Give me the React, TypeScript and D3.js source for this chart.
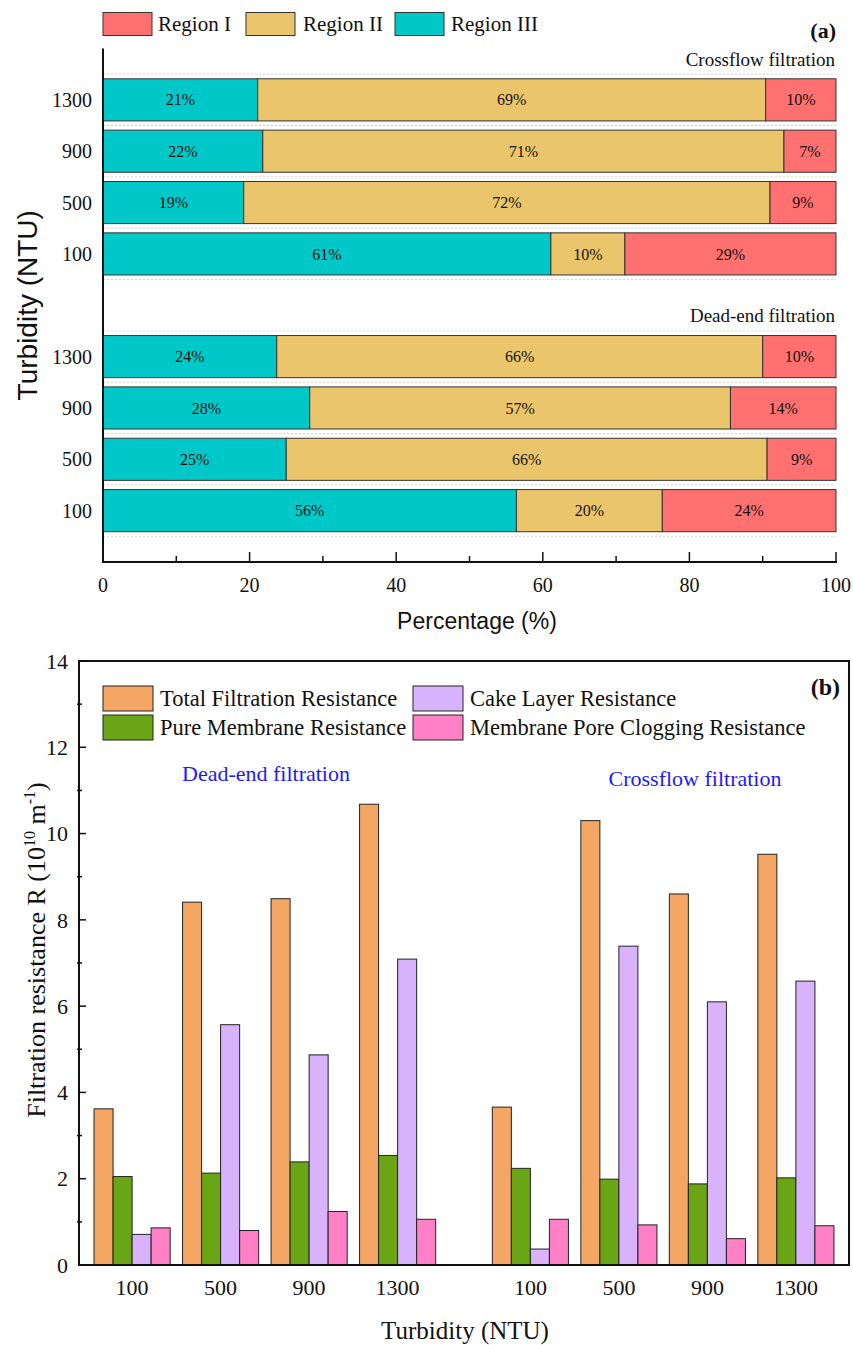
import React from "react";
import * as d3 from "d3";

// ---------- Panel (a) data ----------
const turbidityA = ["1300", "900", "500", "100"];
const regionNames = ["Region I", "Region II", "Region III"];
const crossIII = [21.1, 21.8, 19.2, 61.1];
const crossII = [69.3, 71.1, 71.8, 10.1];
const crossI = [9.6, 7.1, 9.0, 28.8];
const deadIII = [23.7, 28.2, 25.0, 56.4];
const deadII = [66.3, 57.4, 65.6, 19.9];
const deadI = [10.0, 14.4, 9.4, 23.7];
const pctTicks = [0, 20, 40, 60, 80, 100];

// ---------- Panel (b) data ----------
const turbidityB = ["100", "500", "900", "1300"];
const seriesNames = [
  "Total Filtration Resistance",
  "Pure Membrane Resistance",
  "Cake Layer Resistance",
  "Membrane Pore Clogging Resistance",
];
const deadTotal = [3.62, 8.41, 8.49, 10.68];
const deadPure = [2.05, 2.13, 2.39, 2.54];
const deadCake = [0.71, 5.57, 4.87, 7.09];
const deadPore = [0.86, 0.8, 1.24, 1.06];
const crossTotal = [3.66, 10.3, 8.6, 9.52];
const crossPure = [2.24, 1.99, 1.88, 2.02];
const crossCake = [0.37, 7.39, 6.1, 6.58];
const crossPore = [1.06, 0.93, 0.61, 0.91];
const resTicks = [0, 2, 4, 6, 8, 10, 12, 14];

const colorI = "#FF7070";
const colorII = "#EBC56B";
const colorIII = "#00C8C8";
const colorsB = ["#F4A664", "#6AA515", "#D9B2FC", "#FF80C6"];

const serif = "'Liberation Serif', 'Times New Roman', serif";
const sans = "'Liberation Sans', Arial, sans-serif";

export default function App() {
  // Panel (a) scales
  const xa = d3.scaleLinear().domain([0, 100]).range([103, 836]);
  const ya = d3.scaleLinear().domain([0, 10]).range([48.5, 562]);
  const step = ya(1) - ya(0);
  const barH = step * 0.82;

  type Row = { label: string; pos: number; vals: number[] };
  const rowsA: Row[] = [];
  turbidityA.forEach((t, i) => {
    rowsA.push({ label: t, pos: 1 + i, vals: [crossIII[i], crossII[i], crossI[i]] });
  });
  turbidityA.forEach((t, i) => {
    rowsA.push({ label: t, pos: 6 + i, vals: [deadIII[i], deadII[i], deadI[i]] });
  });
  const segColors = [colorIII, colorII, colorI];
  const gridPos = d3.range(0.5, 10, 1);
  const minorA = d3.range(10, 100, 20);

  // Panel (b) scales
  const xb = d3.scaleLinear().domain([0.4, 9.1]).range([79, 849]);
  const yb = d3.scaleLinear().domain([0, 14]).range([1265, 661]);
  const stepB = xb(1) - xb(0);
  const bw = stepB * 0.215;
  const groupsB = [
    ...turbidityB.map((t, i) => ({ label: t, pos: 1 + i, vals: [deadTotal[i], deadPure[i], deadCake[i], deadPore[i]] })),
    ...turbidityB.map((t, i) => ({ label: t, pos: 5.5 + i, vals: [crossTotal[i], crossPure[i], crossCake[i], crossPore[i]] })),
  ];
  const minorB = d3.range(1, 14, 2);

  const legendA = [
    { name: regionNames[0], color: colorI, x: 103, tx: 158 },
    { name: regionNames[1], color: colorII, x: 246, tx: 303 },
    { name: regionNames[2], color: colorIII, x: 395, tx: 451 },
  ];
  const legendB = [
    { name: seriesNames[0], color: colorsB[0], x: 103, y: 686 },
    { name: seriesNames[1], color: colorsB[1], x: 103, y: 715 },
    { name: seriesNames[2], color: colorsB[2], x: 413, y: 686 },
    { name: seriesNames[3], color: colorsB[3], x: 413, y: 715 },
  ];

  return (
    <svg width={853} height={1345} style={{ position: "absolute", left: 0, top: 0, background: "#fff" }}>
      <rect x={0} y={0} width={853} height={1345} fill="#fff" />
      {/* ===== Panel (a) ===== */}
      {legendA.map((l) => (
        <g key={l.name}>
          <rect x={l.x} y={12.5} width={49} height={23} fill={l.color} stroke="#333" strokeWidth={1} />
          <text x={l.tx} y={31} fontFamily={serif} fontSize={21} fill="#111">{l.name}</text>
        </g>
      ))}
      <text x={836} y={38} textAnchor="end" fontFamily={serif} fontSize={22} fontWeight="bold" fill="#111">(a)</text>
      {gridPos.map((p) => (
        <line key={p} x1={xa(0)} x2={xa(100)} y1={ya(p)} y2={ya(p)} stroke="#d4d4d4" strokeWidth={1} strokeDasharray="2,2" />
      ))}
      <text x={835} y={66} textAnchor="end" fontFamily={serif} fontSize={19} fill="#111">Crossflow filtration</text>
      <text x={835} y={322} textAnchor="end" fontFamily={serif} fontSize={19} fill="#111">Dead-end filtration</text>
      {rowsA.map((r, ri) => {
        let acc = 0;
        const yc = ya(r.pos);
        return (
          <g key={ri}>
            {r.vals.map((v, k) => {
              const x0 = xa(acc);
              acc += v;
              const x1 = xa(acc);
              return (
                <g key={k}>
                  <rect x={x0} y={yc - barH / 2} width={x1 - x0} height={barH} fill={segColors[k]} stroke="#333" strokeWidth={1} />
                  <text x={(x0 + x1) / 2} y={yc} dy="0.35em" textAnchor="middle" fontFamily={serif} fontSize={16} fill="#111">
                    {Math.round(v)}%
                  </text>
                </g>
              );
            })}
            <text x={92} y={yc} dy="0.35em" textAnchor="end" fontFamily={serif} fontSize={20} fill="#111">{r.label}</text>
          </g>
        );
      })}
      {/* axes a */}
      <line x1={xa(0)} x2={xa(0)} y1={ya(0)} y2={ya(10) + 1} stroke="#111" strokeWidth={2} />
      <line x1={xa(0) - 1} x2={xa(100) + 1} y1={ya(10)} y2={ya(10)} stroke="#111" strokeWidth={2} />
      {pctTicks.map((t) => (
        <g key={t}>
          <line x1={xa(t)} x2={xa(t)} y1={ya(10)} y2={ya(10) - 10} stroke="#111" strokeWidth={1.5} />
          <text x={xa(t)} y={592} textAnchor="middle" fontFamily={serif} fontSize={20} fill="#111">{t}</text>
        </g>
      ))}
      {minorA.map((t) => (
        <line key={t} x1={xa(t)} x2={xa(t)} y1={ya(10)} y2={ya(10) - 6} stroke="#111" strokeWidth={1.5} />
      ))}
      <text x={477} y={629} textAnchor="middle" fontFamily={sans} fontSize={23} fill="#111">Percentage (%)</text>
      <text transform={`translate(37,${ya(5)}) rotate(-90)`} textAnchor="middle" fontFamily={sans} fontSize={28} fill="#111">Turbidity (NTU)</text>

      {/* ===== Panel (b) ===== */}
      {groupsB.map((g, gi) => (
        <g key={gi}>
          {g.vals.map((v, k) => (
            <rect key={k} x={xb(g.pos) + (k - 2) * bw} y={yb(v)} width={bw} height={yb(0) - yb(v)} fill={colorsB[k]} stroke="#222" strokeWidth={1} />
          ))}
          <text x={xb(g.pos)} y={1295} textAnchor="middle" fontFamily={serif} fontSize={22} fill="#111">{g.label}</text>
        </g>
      ))}
      <rect x={xb(0.4)} y={yb(14)} width={xb(9.1) - xb(0.4)} height={yb(0) - yb(14)} fill="none" stroke="#111" strokeWidth={2} />
      {resTicks.map((t) => (
        <g key={t}>
          <line x1={xb(0.4)} x2={xb(0.4) + 7} y1={yb(t)} y2={yb(t)} stroke="#111" strokeWidth={1.5} />
          <text x={68} y={yb(t)} dy="0.35em" textAnchor="end" fontFamily={serif} fontSize={22} fill="#111">{t}</text>
        </g>
      ))}
      {minorB.map((t) => (
        <line key={t} x1={xb(0.4) - 2} x2={xb(0.4) + 3} y1={yb(t)} y2={yb(t)} stroke="#111" strokeWidth={1.5} />
      ))}
      {legendB.map((l) => (
        <g key={l.name}>
          <rect x={l.x} y={l.y} width={50} height={25} fill={l.color} stroke="#222" strokeWidth={1} />
          <text x={l.x + 57} y={l.y + 20} fontFamily={serif} fontSize={22.5} fill="#111">{l.name}</text>
        </g>
      ))}
      <text x={840} y={695} textAnchor="end" fontFamily={serif} fontSize={24} fontWeight="bold" fill="#111">(b)</text>
      <text x={266} y={781} textAnchor="middle" fontFamily={serif} fontSize={22} fill="#1a1aff">Dead-end filtration</text>
      <text x={695} y={786} textAnchor="middle" fontFamily={serif} fontSize={22} fill="#1a1aff">Crossflow filtration</text>
      <text transform={`translate(45,${yb(7.3)}) rotate(-90)`} textAnchor="middle" fontFamily={serif} fontSize={26} fill="#111">
        Filtration resistance R (10
        <tspan dy={-10} fontSize={16}>10</tspan>
        <tspan dy={10}> m</tspan>
        <tspan dy={-10} fontSize={16}>-1</tspan>
        <tspan dy={10}>)</tspan>
      </text>
      <text x={465} y={1339} textAnchor="middle" fontFamily={serif} fontSize={25} fill="#111">Turbidity (NTU)</text>
    </svg>
  );
}
